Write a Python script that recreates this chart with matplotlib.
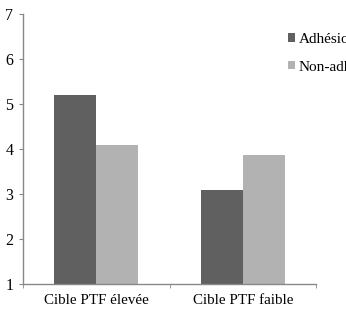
import matplotlib
matplotlib.use("Agg")
import matplotlib.pyplot as plt
import numpy as np

categories = ["Cible PTF élevée", "Cible PTF faible"]
series_names = ["Adhésion", "Non-adhésion"]
adhesion = [5.2, 3.08]
non_adhesion = [4.08, 3.87]
colors = ["#606060", "#b2b2b2"]

plt.rcParams['font.family'] = ['Liberation Serif', 'DejaVu Serif']

fig = plt.figure(figsize=(3.46, 3.2), dpi=100)
W, H = 346, 320
ax = fig.add_axes([23 / W, 1 - 284 / H, (316 - 23) / W, (284 - 14) / H])

x = np.arange(len(categories)) + 0.5
w = 0.287
b1 = ax.bar(x - w / 2, np.array(adhesion) - 1, w, bottom=1, color=colors[0], label=series_names[0])
b2 = ax.bar(x + w / 2, np.array(non_adhesion) - 1, w, bottom=1, color=colors[1], label=series_names[1])

ax.set_xlim(0, 2)
ax.set_ylim(1, 7)
ax.set_yticks(range(1, 8))
ax.set_xticks(x)
ax.set_xticklabels(categories)
ax.set_xticks([0, 1, 2], minor=True)
ax.tick_params(axis='x', which='major', length=0, pad=7, labelsize=10.8)
ax.tick_params(axis='x', which='minor', length=3, color='#888888')
ax.tick_params(axis='y', length=3, color='#888888', labelsize=11.5, pad=4)

for s in ['top', 'right']:
    ax.spines[s].set_visible(False)
for s in ['left', 'bottom']:
    ax.spines[s].set_color('#888888')
    ax.spines[s].set_linewidth(1)

fig.legend(handles=[b1, b2], labels=series_names, loc='upper left',
           bbox_to_anchor=(288 / W, 1 - 33 / H), frameon=False,
           handlelength=0.45, handleheight=0.45, handletextpad=0.25,
           labelspacing=0.95, fontsize=11, borderaxespad=0, borderpad=0)

fig.savefig("out.png", dpi=100)
